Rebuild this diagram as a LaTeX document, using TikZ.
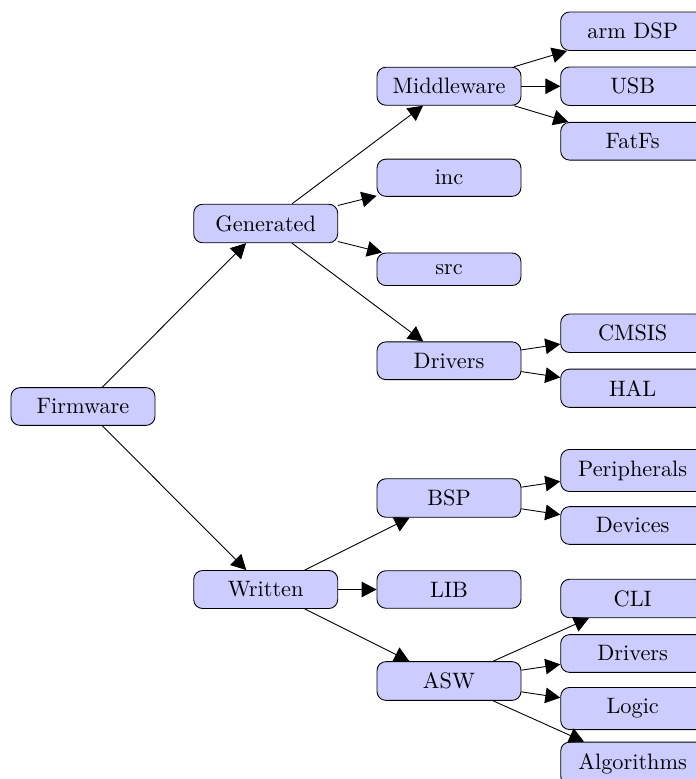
\documentclass[tikz,border=0pt]{standalone}
\usetikzlibrary{arrows.meta}
\begin{document}
\begin{tikzpicture}[
  x=0.4486pt, y=-0.4486pt,
  box/.style={draw=black, fill=blue!20, rounded corners=4pt,
              minimum width=64.6pt, inner xsep=3pt, inner ysep=5pt},
  link/.style={-{Triangle[length=6.7pt,width=7pt]}, line width=0.4pt}
]
\useasboundingbox (0,0) rectangle (696,779);
\clip (0,0) rectangle (696,779);

% root
\node[box] (fw) at (83,406.5) {Firmware};

% first level
\node[box] (gen) at (265.7,223.5) {Generated};
\node[box] (wri) at (265.7,589.5) {Written};

% generated sources
\node[box] (mid) at (449,86.25)  {Middleware};
\node[box] (inc) at (449,177.75) {inc};
\node[box] (src) at (449,269.25) {src};
\node[box] (drv) at (449,360.75) {Drivers};

% written sources
\node[box] (bsp) at (449,498) {BSP};
\node[box] (lib) at (449,589.5) {LIB};
\node[box] (asw) at (449,681) {ASW};

% leaves
\node[box] (dsp)  at (632.7,31.25)  {arm DSP};
\node[box] (usb)  at (632.7,86.25)  {USB};
\node[box] (fat)  at (632.7,141.25) {FatFs};
\node[box] (cms)  at (632.7,333.25) {CMSIS};
\node[box] (hal)  at (632.7,388.25) {HAL};
\node[box] (per)  at (632.7,470.5)  {Peripherals};
\node[box] (dev)  at (632.7,525.5)  {Devices};
\node[box] (cli)  at (632.7,598.5)  {CLI};
\node[box] (adrv) at (632.7,653.5)  {Drivers};
\node[box] (log)  at (632.7,708.5)  {Logic};
\node[box] (alg)  at (632.7,763.5)  {Algorithms};

% connectors
\draw[link] (fw) -- (gen);
\draw[link] (fw) -- (wri);

\draw[link] (gen) -- (mid);
\draw[link] (gen) -- (inc);
\draw[link] (gen) -- (src);
\draw[link] (gen) -- (drv);

\draw[link] (wri) -- (bsp);
\draw[link] (wri) -- (lib);
\draw[link] (wri) -- (asw);

\draw[link] (mid) -- (dsp);
\draw[link] (mid) -- (usb);
\draw[link] (mid) -- (fat);

\draw[link] (drv) -- (cms);
\draw[link] (drv) -- (hal);

\draw[link] (bsp) -- (per);
\draw[link] (bsp) -- (dev);

\draw[link] (asw) -- (cli);
\draw[link] (asw) -- (adrv);
\draw[link] (asw) -- (log);
\draw[link] (asw) -- (alg);
\end{tikzpicture}
\end{document}
